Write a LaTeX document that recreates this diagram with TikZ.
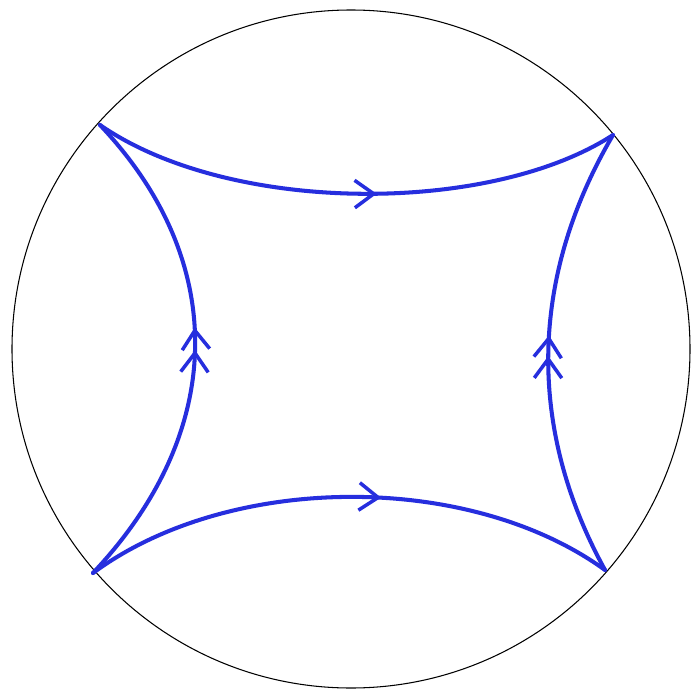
\documentclass[tikz,border=0pt]{standalone}
\usetikzlibrary{arrows.meta,decorations.markings}
\definecolor{penblue}{RGB}{38,46,222}
\begin{document}
\begin{tikzpicture}[x=0.02cm,y=-0.02cm,
  disk/.style={draw=black, line width=0.6pt},
  geo/.style={draw=penblue, line width=2.3pt, line cap=round, line join=round},
  onearrow/.style={postaction={decorate, decoration={markings,
    mark=at position #1 with {\arrow[penblue, line width=2pt]{Straight Barb[length=3.8mm, width=5.5mm]}}}}},
  twoarrow/.style={postaction={decorate, decoration={markings,
    mark=at position #1 with {\arrow[penblue, line width=2pt]{Straight Barb[length=3.8mm, width=5.5mm]}},
    mark=at position #1+0.045 with {\arrow[penblue, line width=2pt]{Straight Barb[length=3.8mm, width=5.5mm]}}}}}]
\useasboundingbox (0,0) rectangle (692,696);
\fill[white] (0,0) rectangle (692,696);
\draw[disk] (351,349) circle[radius=339];
\coordinate (tl) at (100,125);
\coordinate (tr) at (613,135);
\coordinate (bl) at (93,573);
\coordinate (br) at (605,570);
% top and bottom
\draw[geo, onearrow=0.54] (tl) .. controls (230,215) and (490,215) .. (tr);
\draw[geo, onearrow=0.56] (bl) .. controls (230,472) and (470,472) .. (br);
% left and right
\draw[geo, twoarrow=0.5] (bl) .. controls (228,430) and (228,260) .. (tl);
\draw[geo, twoarrow=0.49] (br) .. controls (528,430) and (528,280) .. (tr);
\end{tikzpicture}
\end{document}
